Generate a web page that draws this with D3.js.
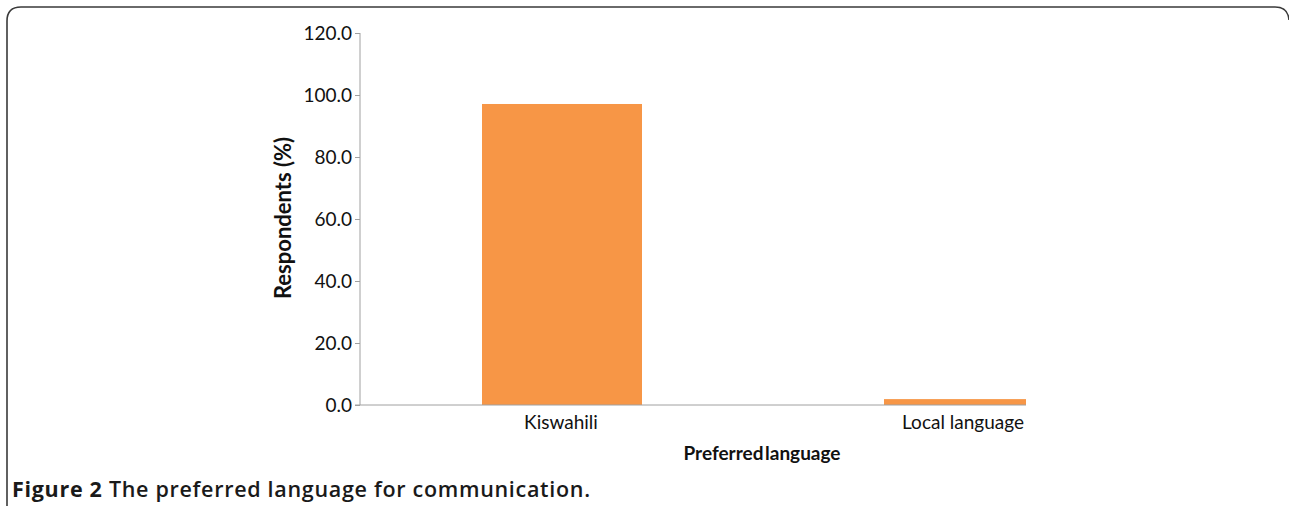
<!DOCTYPE html>
<html><head><meta charset="utf-8">
<script src="https://cdn.jsdelivr.net/npm/d3@7"></script>
<style>body{margin:0;background:#fff}svg{display:block}</style>
</head><body><svg id="c" width="1289" height="506"></svg>
<script>
const categories = ["Kiswahili", "Local language"];
const values = [97.1, 1.9];
const yTicks = [0, 20, 40, 60, 80, 100, 120];
const yTitle = "Respondents (%)";
const xTitle = "Preferred language";

const svg = d3.select("#c");
const W = 1289, H = 506;
const FONT = "Lato, 'Open Sans', sans-serif";

// frame
svg.append("path")
  .attr("d", "M7,506 L7,21 Q7,7 21,7 L1275,7 Q1288,7 1289,20")
  .attr("fill", "none").attr("stroke", "#3a3a3a").attr("stroke-width", 1.6);

const y = d3.scaleLinear().domain([0, 120]).range([405, 33]);
const x = d3.scaleBand().domain(categories).range([361, 1165]).paddingInner(0.602).paddingOuter(0.301);
const axisX0 = 360, axisX1 = 1026;

svg.append("clipPath").attr("id", "plot").append("rect")
  .attr("x", axisX0).attr("y", 0).attr("width", axisX1 - axisX0).attr("height", H);

svg.append("g").attr("clip-path", "url(#plot)").selectAll("rect").data(categories).join("rect")
  .attr("x", d => x(d)).attr("width", x.bandwidth())
  .attr("y", (d, i) => y(values[i])).attr("height", (d, i) => y(0) - y(values[i]))
  .attr("fill", "#F79646");

// y axis
const ya = svg.append("g").attr("transform", `translate(${axisX0},0)`)
  .call(d3.axisLeft(y).tickValues(yTicks).tickFormat(d3.format(".1f")).tickSize(5).tickPadding(3));
ya.select(".domain").attr("stroke", "#a0a0a0").attr("d", `M0,${y(120)}V${y(0)}`);
ya.selectAll(".tick line").attr("stroke", "#a0a0a0");
ya.selectAll(".tick text").attr("font-family", FONT).attr("font-size", 19).attr("fill", "#111");

// x axis line
svg.append("line").attr("x1", axisX0 - 5).attr("x2", axisX1).attr("y1", y(0)).attr("y2", y(0))
  .attr("stroke", "#a0a0a0").attr("stroke-width", 1);

svg.append("g").selectAll("text").data(categories).join("text")
  .attr("x", d => x(d) + x.bandwidth() / 2 - 1).attr("y", 429)
  .attr("text-anchor", "middle")
  .attr("font-family", FONT).attr("font-size", 19).attr("fill", "#111")
  .text(d => d);

svg.append("text").attr("x", 762).attr("y", 460).attr("text-anchor", "middle")
  .attr("font-family", FONT).attr("font-size", 19).attr("font-weight", "bold")
  .attr("fill", "#111").attr("word-spacing", -3).text(xTitle);

svg.append("text").attr("transform", "translate(291,218) rotate(-90)").attr("text-anchor", "middle")
  .attr("font-family", FONT).attr("font-size", 22).attr("font-weight", "bold")
  .attr("fill", "#111").text(yTitle);

const cap = svg.append("text").attr("x", 12).attr("y", 497)
  .attr("font-family", "'Open Sans', 'Noto Sans', sans-serif").attr("font-size", 21.5)
  .attr("letter-spacing", 0.7).attr("fill", "#1a1a1a");
cap.append("tspan").attr("font-weight", "bold").text("Figure 2");
cap.append("tspan").attr("font-weight", 600).text(" The preferred language for communication.");
</script></body></html>
